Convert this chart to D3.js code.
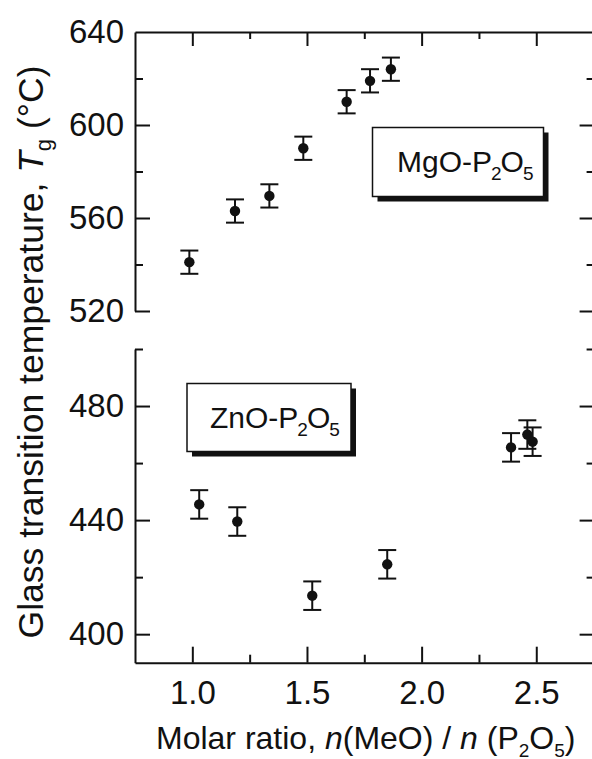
<!DOCTYPE html>
<html>
<head>
<meta charset="utf-8">
<script src="https://cdn.jsdelivr.net/npm/d3@7"></script>
<style>
  html, body { margin: 0; padding: 0; background: #fff; }
  svg { display: block; font-family: "Liberation Sans", Arial, sans-serif; }
</style>
</head>
<body>
<svg id="chart" width="592" height="759"></svg>
<script>
// ---- data ----
const mgoRatio = [0.987, 1.186, 1.336, 1.484, 1.673, 1.775, 1.866];
const mgoTg    = [541, 563, 569.5, 590, 610, 619, 624];
const mgoErr   = [5, 5, 5, 5, 5, 5, 5];

const znoRatio = [1.030, 1.196, 1.523, 1.850, 2.390, 2.461, 2.484];
const znoTg    = [445.5, 439.5, 413.5, 424.5, 465.5, 470, 467.5];
const znoErr   = [5, 5, 5, 5, 5, 5, 5];

const xMajorTicks = [1.0, 1.5, 2.0, 2.5];
const xMinorTicks = [1.25, 1.75, 2.25];
const topMajorTicks = [640, 600, 560, 520];
const topMinorTicks = [620, 580, 540];
const botMajorTicks = [480, 440, 400];
const botMinorTicks = [500, 460, 420];

// ---- layout ----
const svg = d3.select("#chart");
const L = 135, R = 593.6;
const x = d3.scaleLinear().domain([0.75, 2.75]).range([L, R]);
const yTop = d3.scaleLinear().domain([520, 640]).range([311, 32]);
const yBot = d3.scaleLinear().domain([390, 500]).range([662.7, 349]);

const ink = "#111";
const FS = 33;

function styleAxis(g) {
  g.selectAll("path.domain").attr("stroke", ink).attr("stroke-width", 2);
  g.selectAll(".tick line").attr("stroke", ink).attr("stroke-width", 2);
  g.selectAll(".tick text").attr("fill", ink).attr("font-size", FS)
    .attr("font-family", '"Liberation Sans", Arial, sans-serif');
}

// ----- top panel axes -----
const gTopX = svg.append("g").attr("transform", `translate(0,${yTop(640)})`)
  .call(d3.axisTop(x).tickValues(xMajorTicks).tickSize(-14).tickSizeOuter(0).tickFormat(""));
styleAxis(gTopX);
const gTopXm = svg.append("g").attr("transform", `translate(0,${yTop(640)})`)
  .call(d3.axisTop(x).tickValues(xMinorTicks).tickSize(-7).tickFormat(""));
gTopXm.select("path.domain").remove();
styleAxis(gTopXm);

const gTopY = svg.append("g").attr("transform", `translate(${L},0)`)
  .call(d3.axisLeft(yTop).tickValues(topMajorTicks).tickSize(-15).tickSizeOuter(0).tickPadding(11).tickFormat(d3.format("d")));
styleAxis(gTopY);
gTopY.selectAll(".tick").filter(d => d === 640).select("line").remove();
const gTopYm = svg.append("g").attr("transform", `translate(${L},0)`)
  .call(d3.axisLeft(yTop).tickValues(topMinorTicks).tickSize(-8).tickFormat(""));
gTopYm.select("path.domain").remove();
styleAxis(gTopYm);

const gTopR = svg.append("g").attr("transform", `translate(${R},0)`)
  .call(d3.axisRight(yTop).tickValues(topMajorTicks.filter(d => d !== 640)).tickSize(-14).tickSizeOuter(0).tickFormat(""));
styleAxis(gTopR);
const gTopRm = svg.append("g").attr("transform", `translate(${R},0)`)
  .call(d3.axisRight(yTop).tickValues(topMinorTicks).tickSize(-7).tickFormat(""));
gTopRm.select("path.domain").remove();
styleAxis(gTopRm);

// ----- bottom panel axes -----
const gBotX = svg.append("g").attr("transform", `translate(0,${yBot(390)})`)
  .call(d3.axisBottom(x).tickValues(xMajorTicks).tickSize(-16).tickSizeOuter(0).tickPadding(18).tickFormat(d3.format(".1f")));
styleAxis(gBotX);
const gBotXm = svg.append("g").attr("transform", `translate(0,${yBot(390)})`)
  .call(d3.axisBottom(x).tickValues(xMinorTicks).tickSize(-8).tickFormat(""));
gBotXm.select("path.domain").remove();
styleAxis(gBotXm);

const gBotY = svg.append("g").attr("transform", `translate(${L},0)`)
  .call(d3.axisLeft(yBot).tickValues(botMajorTicks).tickSize(-15).tickSizeOuter(0).tickPadding(11).tickFormat(d3.format("d")));
styleAxis(gBotY);
const gBotYm = svg.append("g").attr("transform", `translate(${L},0)`)
  .call(d3.axisLeft(yBot).tickValues(botMinorTicks).tickSize(-8).tickFormat(""));
gBotYm.select("path.domain").remove();
styleAxis(gBotYm);

const gBotR = svg.append("g").attr("transform", `translate(${R},0)`)
  .call(d3.axisRight(yBot).tickValues(botMajorTicks).tickSize(-14).tickSizeOuter(0).tickFormat(""));
styleAxis(gBotR);
const gBotRm = svg.append("g").attr("transform", `translate(${R},0)`)
  .call(d3.axisRight(yBot).tickValues(botMinorTicks).tickSize(-7).tickFormat(""));
gBotRm.select("path.domain").remove();
styleAxis(gBotRm);

// ----- data marks -----
function drawSeries(xs, ys, es, yScale) {
  const data = xs.map((v, i) => ({ x: v, y: ys[i], e: es[i] }));
  const g = svg.append("g");
  const cap = 9;
  const eb = g.selectAll("g.eb").data(data).join("g").attr("class", "eb");
  eb.append("line")
    .attr("x1", d => x(d.x)).attr("x2", d => x(d.x))
    .attr("y1", d => yScale(d.y - d.e)).attr("y2", d => yScale(d.y + d.e))
    .attr("stroke", ink).attr("stroke-width", 2);
  eb.append("line")
    .attr("x1", d => x(d.x) - cap).attr("x2", d => x(d.x) + cap)
    .attr("y1", d => yScale(d.y + d.e)).attr("y2", d => yScale(d.y + d.e))
    .attr("stroke", ink).attr("stroke-width", 2);
  eb.append("line")
    .attr("x1", d => x(d.x) - cap).attr("x2", d => x(d.x) + cap)
    .attr("y1", d => yScale(d.y - d.e)).attr("y2", d => yScale(d.y - d.e))
    .attr("stroke", ink).attr("stroke-width", 2);
  g.selectAll("circle").data(data).join("circle")
    .attr("cx", d => x(d.x)).attr("cy", d => yScale(d.y))
    .attr("r", 5.2).attr("fill", ink);
}
drawSeries(mgoRatio, mgoTg, mgoErr, yTop);
drawSeries(znoRatio, znoTg, znoErr, yBot);

// ----- legend boxes -----
function labelBox(bx, by, bw, bh, tx, ty, main) {
  const g = svg.append("g");
  g.append("rect").attr("x", bx + 5).attr("y", by + 5).attr("width", bw).attr("height", bh).attr("fill", ink);
  g.append("rect").attr("x", bx).attr("y", by).attr("width", bw).attr("height", bh)
    .attr("fill", "#fff").attr("stroke", ink).attr("stroke-width", 1.5);
  const t = g.append("text").attr("x", tx).attr("y", ty).attr("font-size", 30).attr("fill", ink);
  t.append("tspan").text(main + "-P");
  t.append("tspan").attr("font-size", 19).attr("dy", 8).attr("dx", -1).text("2");
  t.append("tspan").attr("dy", -8).attr("dx", -1).text("O");
  t.append("tspan").attr("font-size", 19).attr("dy", 8).attr("dx", -1).text("5");
}
labelBox(372.5, 127.5, 171, 69, 397, 172, "MgO");
labelBox(187, 383.5, 164, 68, 210, 428, "ZnO");

// ----- axis titles -----
const xt = svg.append("text").attr("x", 156).attr("y", 748.5).attr("font-size", 32).attr("fill", ink);
xt.append("tspan").text("Molar ratio, ");
xt.append("tspan").attr("font-style", "italic").text("n");
xt.append("tspan").text("(MeO) / ");
xt.append("tspan").attr("font-style", "italic").text("n");
xt.append("tspan").text(" (P");
xt.append("tspan").attr("font-size", 19).attr("dy", 8).text("2");
xt.append("tspan").attr("dy", -8).text("O");
xt.append("tspan").attr("font-size", 19).attr("dy", 8).text("5");
xt.append("tspan").attr("dy", -8).text(")");

const yt = svg.append("text")
  .attr("transform", "translate(43,352) rotate(-90)")
  .attr("text-anchor", "middle").attr("font-size", 35.5).attr("fill", ink);
yt.append("tspan").text("Glass transition temperature, ");
yt.append("tspan").attr("font-style", "italic").text("T");
yt.append("tspan").attr("font-size", 22).attr("dy", 8).text("g");
yt.append("tspan").attr("dy", -8).text(" (°C)");
</script>
</body>
</html>
